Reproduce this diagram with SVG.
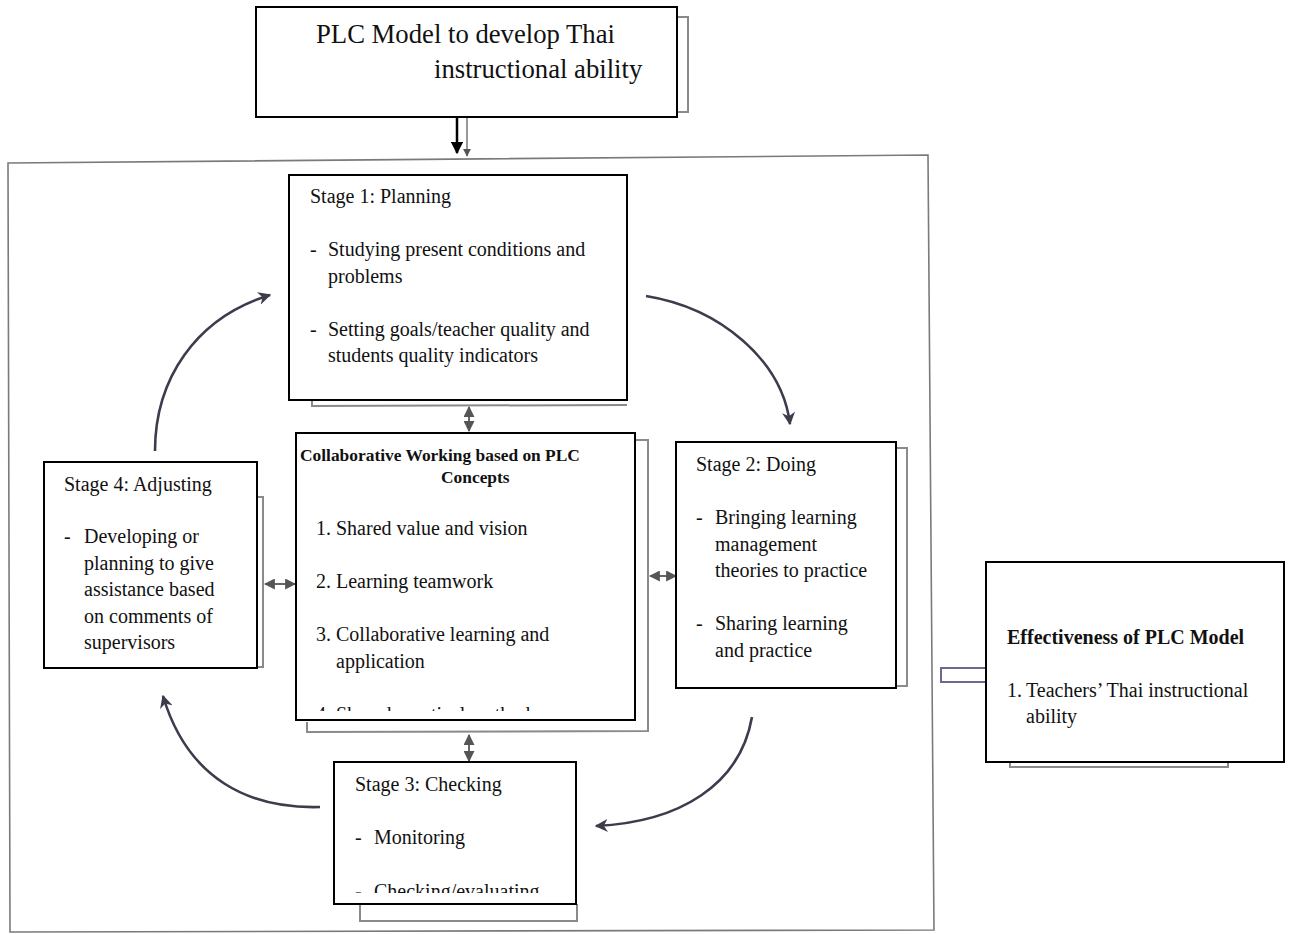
<svg xmlns="http://www.w3.org/2000/svg" width="1291" height="934" viewBox="0 0 1291 934">
<style>
  .box { fill: #fff; stroke: #000; stroke-width: 2; }
  .shadow { fill: none; stroke: #8a8a8a; stroke-width: 2; }
  .frame { fill: none; stroke: #7a7a7a; stroke-width: 1.6; }
  .t { font-family: "Liberation Serif", "Times New Roman", serif; font-size: 20px; fill: #111; }
  .tb { font-family: "Liberation Serif", "Times New Roman", serif; font-size: 17.4px; font-weight: bold; fill: #111; }
  .title { font-family: "Liberation Serif", "Times New Roman", serif; font-size: 26.7px; fill: #111; }
  .curve { fill: none; stroke: #3c3c4c; stroke-width: 2.6; }
  .small { fill: none; stroke: #666; stroke-width: 2; }
</style>
<defs>
  <marker id="ah" viewBox="0 0 10 10" refX="9" refY="5" markerWidth="5" markerHeight="5" orient="auto" markerUnits="strokeWidth">
    <path d="M0,0 L10,5 L0,10 L3,5 Z" fill="#3c3c4c"/>
  </marker>
  <marker id="sh" viewBox="0 0 10 10" refX="9" refY="5" markerWidth="5.5" markerHeight="5.5" orient="auto-start-reverse" markerUnits="strokeWidth">
    <path d="M0,0 L10,5 L0,10 Z" fill="#555"/>
  </marker>
  <marker id="bk" viewBox="0 0 10 10" refX="9" refY="5" markerWidth="5" markerHeight="5" orient="auto" markerUnits="strokeWidth">
    <path d="M0,0 L10,5 L0,10 Z" fill="#000"/>
  </marker>
  <clipPath id="clipCenter"><rect x="296" y="433" width="339" height="278"/></clipPath>
  <clipPath id="clipS3"><rect x="334" y="762" width="242" height="131"/></clipPath>
</defs>

<rect width="1291" height="934" fill="#fff"/>

<!-- outer frame -->
<polygon class="frame" points="8,163 928,155 934,930 10,932"/>

<g id="connectors">
  <line x1="457" y1="118" x2="457" y2="153" stroke="#000" stroke-width="2.5" marker-end="url(#bk)"/>
  <line x1="467" y1="118" x2="467" y2="156" stroke="#777" stroke-width="1.5" marker-end="url(#sh)"/>
  <path class="curve" d="M155,451 C155,380 195,318 270,295" marker-end="url(#ah)"/>
  <path class="curve" d="M646,296 C720,308 782,360 790,424" marker-end="url(#ah)"/>
  <path class="curve" d="M752,717 C740,785 680,822 596,826" marker-end="url(#ah)"/>
  <path class="curve" d="M320,807 C250,809 188,780 163,696" marker-end="url(#ah)"/>
  <line class="small" x1="469" y1="431" x2="469" y2="407" marker-start="url(#sh)" marker-end="url(#sh)"/>
  <line class="small" x1="469" y1="761" x2="469" y2="735" marker-start="url(#sh)" marker-end="url(#sh)"/>
  <line class="small" x1="265" y1="584" x2="295" y2="584" marker-start="url(#sh)" marker-end="url(#sh)"/>
  <line class="small" x1="650" y1="576" x2="676" y2="576" marker-start="url(#sh)" marker-end="url(#sh)"/>
  <polyline points="986,668 941,668 941,682 986,682" fill="#fff" stroke="#6a6a90" stroke-width="2"/>
</g>

<g id="title">
  <polyline class="shadow" points="677,17 688,17 688,112 677,112"/>
  <rect class="box" x="256" y="7" width="421" height="110"/>
  <text class="title" x="316" y="43">PLC Model to develop Thai</text>
  <text class="title" x="434" y="78">instructional ability</text>
</g>

<g id="stage1">
  <polyline class="shadow" points="312,400 312,406 627,405"/>
  <rect class="box" x="289" y="175" width="338" height="225"/>
  <text class="t" x="310" y="203">Stage 1: Planning</text>
  <text class="t" x="310" y="256">-</text>
  <text class="t" x="328" y="256">Studying present conditions and</text>
  <text class="t" x="328" y="283">problems</text>
  <text class="t" x="310" y="336">-</text>
  <text class="t" x="328" y="336">Setting goals/teacher quality and</text>
  <text class="t" x="328" y="362">students quality indicators</text>
</g>

<g id="center">
  <polyline class="shadow" points="635,440 648,440 648,731 307,732 307,722"/>
  <rect class="box" x="296" y="433" width="339" height="287"/>
  <g clip-path="url(#clipCenter)">
    <text class="tb" x="300" y="461">Collaborative Working based on PLC</text>
    <text class="tb" x="441" y="483">Concepts</text>
    <text class="t" x="316" y="535">1.</text>
    <text class="t" x="336" y="535">Shared value and vision</text>
    <text class="t" x="316" y="588">2.</text>
    <text class="t" x="336" y="588">Learning teamwork</text>
    <text class="t" x="316" y="641">3.</text>
    <text class="t" x="336" y="641">Collaborative learning and</text>
    <text class="t" x="336" y="668">application</text>
    <text class="t" x="316" y="721">4.</text>
    <text class="t" x="336" y="721">Shared practical methods</text>
  </g>
</g>

<g id="stage2">
  <polyline class="shadow" points="897,448 907,448 907,686 897,686"/>
  <rect class="box" x="676" y="442" width="220" height="246"/>
  <text class="t" x="696" y="471">Stage 2: Doing</text>
  <text class="t" x="696" y="524">-</text>
  <text class="t" x="715" y="524">Bringing learning</text>
  <text class="t" x="715" y="551">management</text>
  <text class="t" x="715" y="577">theories to practice</text>
  <text class="t" x="696" y="630">-</text>
  <text class="t" x="715" y="630">Sharing learning</text>
  <text class="t" x="715" y="657">and practice</text>
</g>

<g id="stage3">
  <polyline class="shadow" points="360,904 360,921 577,921 577,904"/>
  <rect class="box" x="334" y="762" width="242" height="142"/>
  <g clip-path="url(#clipS3)">
    <text class="t" x="355" y="791">Stage 3: Checking</text>
    <text class="t" x="355" y="844">-</text>
    <text class="t" x="374" y="844">Monitoring</text>
    <text class="t" x="355" y="898">-</text>
    <text class="t" x="374" y="898">Checking/evaluating</text>
  </g>
</g>

<g id="stage4">
  <polyline class="shadow" points="257,497 263,497 263,667 257,667"/>
  <rect class="box" x="44" y="462" width="213" height="206"/>
  <text class="t" x="64" y="491">Stage 4: Adjusting</text>
  <text class="t" x="64" y="543">-</text>
  <text class="t" x="84" y="543">Developing or</text>
  <text class="t" x="84" y="570">planning to give</text>
  <text class="t" x="84" y="596">assistance based</text>
  <text class="t" x="84" y="623">on comments of</text>
  <text class="t" x="84" y="649">supervisors</text>
</g>

<g id="effectiveness">
  <polyline class="shadow" points="1010,762 1010,767 1228,767 1228,762"/>
  <rect class="box" x="986" y="562" width="298" height="200"/>
  <text class="tb" x="1007" y="644" style="font-size:20px">Effectiveness of PLC Model</text>
  <text class="t" x="1007" y="697">1.</text>
  <text class="t" x="1026" y="697">Teachers’ Thai instructional</text>
  <text class="t" x="1026" y="723">ability</text>
</g>
</svg>
